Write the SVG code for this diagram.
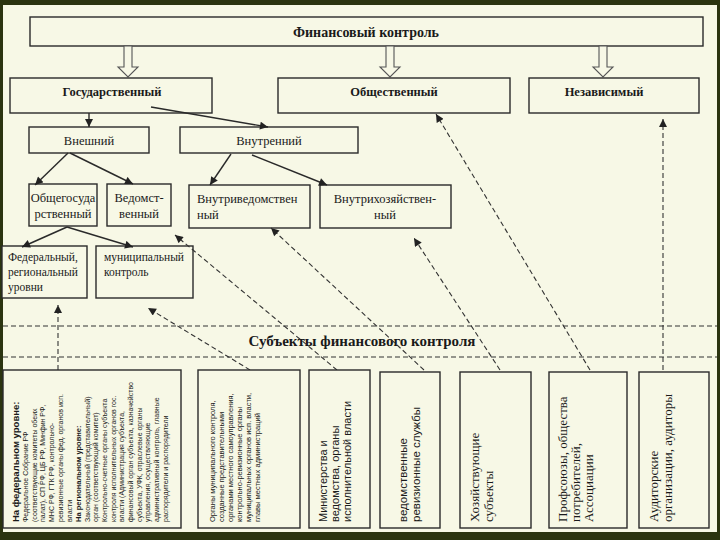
<svg xmlns="http://www.w3.org/2000/svg" width="720" height="540" viewBox="0 0 720 540">
<style>
.box{fill:#f7f8e6;stroke:#2a2a2a;stroke-width:1.4}
.t{font-family:"Liberation Serif","DejaVu Serif",serif;fill:#1a1a1a}
.tb{font-family:"Liberation Serif","DejaVu Serif",serif;fill:#1a1a1a;font-weight:bold}
.ts{font-family:"Liberation Sans","DejaVu Sans",sans-serif;fill:#1a1a1a}
.c{fill:none;stroke:#2a2a2a;stroke-width:1.4}
.d{fill:none;stroke:#333;stroke-width:1.1;stroke-dasharray:5,3}
.hollow{fill:#f7f8e6;stroke:#555;stroke-width:1.1}
</style>
<defs>
<marker id="ah" viewBox="0 0 10 10" refX="10" refY="5" markerWidth="9" markerHeight="8" orient="auto" markerUnits="userSpaceOnUse"><path d="M0,0 L10,5 L0,10 z" fill="#222"/></marker>
</defs>
<rect x="0" y="0" width="720" height="540" fill="#2b3410"/>
<rect x="3" y="5" width="714" height="527" fill="#f7f8e6"/>

<g id="n-fin"><rect class="box" x="30" y="17" width="673" height="29"/><text class="tb" x="366" y="37" font-size="14" text-anchor="middle">Финансовый контроль</text></g>

<g id="hollow-arrows">
<path class="hollow" d="M124,46 L132,46 L132,67 L138,67 L128,77 L118,67 L124,67 Z"/>
<path class="hollow" d="M386,46 L394,46 L394,67 L400,67 L390,77 L380,67 L386,67 Z"/>
<path class="hollow" d="M599,46 L607,46 L607,67 L613,67 L603,77 L593,67 L599,67 Z"/>
</g>

<g id="n-gos"><rect class="box" x="10" y="78" width="202" height="35"/><text class="tb" x="112" y="96" font-size="12.5" text-anchor="middle">Государственный</text></g>
<g id="n-obsh"><rect class="box" x="278" y="78" width="232" height="35"/><text class="tb" x="394" y="96" font-size="12.5" text-anchor="middle">Общественный</text></g>
<g id="n-nez"><rect class="box" x="529" y="78" width="170" height="35"/><text class="tb" x="604" y="96" font-size="12.5" text-anchor="middle">Независимый</text></g>

<g id="n-vnesh"><rect class="box" x="29" y="127" width="120" height="26"/><text class="t" x="89" y="145" font-size="12.5" text-anchor="middle">Внешний</text></g>
<g id="n-vnutr"><rect class="box" x="180" y="127" width="178" height="26"/><text class="t" x="269" y="145" font-size="12.5" text-anchor="middle">Внутренний</text></g>

<g id="n-obshegos"><rect class="box" x="29" y="184" width="68" height="42"/><text class="t" font-size="12.5" text-anchor="middle"><tspan x="63" y="202">Общегосуда</tspan><tspan x="63" y="218">рственный</tspan></text></g>
<g id="n-vedom"><rect class="box" x="107" y="184" width="64" height="42"/><text class="t" font-size="12.5" text-anchor="middle"><tspan x="139" y="202">Ведомст-</tspan><tspan x="139" y="218">венный</tspan></text></g>
<g id="n-vnutrived"><rect class="box" x="189" y="185" width="121" height="43"/><text class="t" font-size="12.5"><tspan x="197" y="203">Внутриведомствен</tspan><tspan x="197" y="219">ный</tspan></text></g>
<g id="n-vnutrihoz"><rect class="box" x="320" y="185" width="131" height="43"/><text class="t" font-size="12.5" text-anchor="middle"><tspan x="385" y="203">Внутрихозяйствен-</tspan><tspan x="385" y="219">ный</tspan></text></g>

<g id="n-fed"><rect class="box" x="2" y="246" width="85" height="52"/><text class="t" font-size="11.5"><tspan x="8" y="261">Федеральный,</tspan><tspan x="8" y="276">региональный</tspan><tspan x="8" y="291">уровни</tspan></text></g>
<g id="n-mun"><rect class="box" x="96" y="246" width="97" height="52"/><text class="t" font-size="11.5"><tspan x="104" y="261">муниципальный</tspan><tspan x="104" y="276">контроль</tspan></text></g>

<g id="band">
<line class="d" x1="3" y1="326" x2="717" y2="326"/>
<line class="d" x1="3" y1="357" x2="717" y2="357"/>
<text class="tb" x="362" y="346" font-size="15" text-anchor="middle">Субъекты финансового контроля</text>
</g>

<g id="connectors">
<line class="c" x1="89" y1="113" x2="89" y2="127" marker-end="url(#ah)"/>
<line class="c" x1="151" y1="107" x2="268" y2="127" marker-end="url(#ah)"/>
<line class="c" x1="68" y1="153" x2="35" y2="185" marker-end="url(#ah)"/>
<line class="c" x1="70" y1="153" x2="133" y2="184" marker-end="url(#ah)"/>
<line class="c" x1="231" y1="154" x2="210" y2="185" marker-end="url(#ah)"/>
<line class="c" x1="252" y1="155" x2="327" y2="185" marker-end="url(#ah)"/>
<line class="c" x1="67" y1="227" x2="22" y2="247" marker-end="url(#ah)"/>
<line class="c" x1="67" y1="227" x2="133" y2="247" marker-end="url(#ah)"/>
<line class="d" x1="58" y1="370" x2="58" y2="305" marker-end="url(#ah)"/>
<line class="d" x1="250" y1="370" x2="148" y2="308" marker-end="url(#ah)"/>
<line class="d" x1="337" y1="370" x2="175" y2="235" marker-end="url(#ah)"/>
<line class="d" x1="424" y1="370" x2="271" y2="228" marker-end="url(#ah)"/>
<line class="d" x1="500" y1="370" x2="414" y2="238" marker-end="url(#ah)"/>
<line class="d" x1="590" y1="370" x2="436" y2="114" marker-end="url(#ah)"/>
<line class="d" x1="663" y1="370" x2="663" y2="119" marker-end="url(#ah)"/>
</g>

<g id="s1"><rect class="box" x="3" y="370" width="178" height="158"/>
<g transform="translate(0,522) rotate(-90)">
<text class="ts" font-size="7">
<tspan x="0" y="19" font-weight="bold" font-size="9.5">На федеральном уровне:</tspan>
<tspan x="0" y="28">Федеральное Собрание РФ</tspan>
<tspan x="0" y="36.7">(соответствующие комитеты обеих</tspan>
<tspan x="0" y="45.4">палат), СП РФ, ЦБ РФ, Минфин РФ,</tspan>
<tspan x="0" y="54.1">МНС РФ, ГТК РФ, контрольно-</tspan>
<tspan x="0" y="62.8">ревизионные органы фед. органов исп.</tspan>
<tspan x="0" y="71.5">власти</tspan>
<tspan x="0" y="81" font-weight="bold" font-size="7.5">На региональном уровне:</tspan>
<tspan x="0" y="89.5">Законодательный (представительный)</tspan>
<tspan x="0" y="98.2">орган (соответствующий комитет)</tspan>
<tspan x="0" y="106.9">Контрольно-счетные органы субъекта</tspan>
<tspan x="0" y="115.6">контроля исполнительных органов гос.</tspan>
<tspan x="0" y="124.3">власти (Администрация субъекта,</tspan>
<tspan x="0" y="133">финансовый орган субъекта, казначейство</tspan>
<tspan x="0" y="141.7">субъекта, УФК, отраслевые органы</tspan>
<tspan x="0" y="150.4">управления, осуществляющие</tspan>
<tspan x="0" y="159.1">административный контроль, главные</tspan>
<tspan x="0" y="167.8">распорядители и распорядители</tspan>
</text></g></g>

<g id="s2"><rect class="box" x="198" y="370" width="102" height="158"/>
<g transform="translate(0,522) rotate(-90)">
<text class="ts" font-size="7.5">
<tspan x="0" y="215">Органы муниципального контроля,</tspan>
<tspan x="0" y="224">созданные представительными</tspan>
<tspan x="0" y="233">органами местного самоуправления,</tspan>
<tspan x="0" y="242">контрольно-ревизионные органы</tspan>
<tspan x="0" y="251">муниципальных органов исп. власти,</tspan>
<tspan x="0" y="260">главы местных администраций</tspan>
</text></g></g>

<g id="s3"><rect class="box" x="309" y="370" width="61" height="158"/>
<g transform="translate(0,522) rotate(-90)">
<text class="ts" font-size="11">
<tspan x="0" y="327">Министерства и</tspan>
<tspan x="0" y="339">ведомства, органы</tspan>
<tspan x="0" y="351">исполнительной власти</tspan>
</text></g></g>

<g id="s4"><rect class="box" x="380" y="372" width="60" height="156"/>
<g transform="translate(0,522) rotate(-90)">
<text class="ts" font-size="11.5">
<tspan x="0" y="407">ведомственные</tspan>
<tspan x="0" y="420">ревизионные службы</tspan>
</text></g></g>

<g id="s5"><rect class="box" x="460" y="372" width="71" height="156"/>
<g transform="translate(0,522) rotate(-90)">
<text class="t" font-size="13">
<tspan x="0" y="479">Хозяйствующие</tspan>
<tspan x="0" y="493">субъекты</tspan>
</text></g></g>

<g id="s6"><rect class="box" x="549" y="372" width="78" height="156"/>
<g transform="translate(0,522) rotate(-90)">
<text class="t" font-size="13">
<tspan x="0" y="567">Профсоюзы, общества</tspan>
<tspan x="0" y="580">потребителей,</tspan>
<tspan x="0" y="593">Ассоциации</tspan>
</text></g></g>

<g id="s7"><rect class="box" x="639" y="372" width="70" height="156"/>
<g transform="translate(0,522) rotate(-90)">
<text class="t" font-size="13">
<tspan x="0" y="658">Аудиторские</tspan>
<tspan x="0" y="672">организации, аудиторы</tspan>
</text></g></g>
</svg>
